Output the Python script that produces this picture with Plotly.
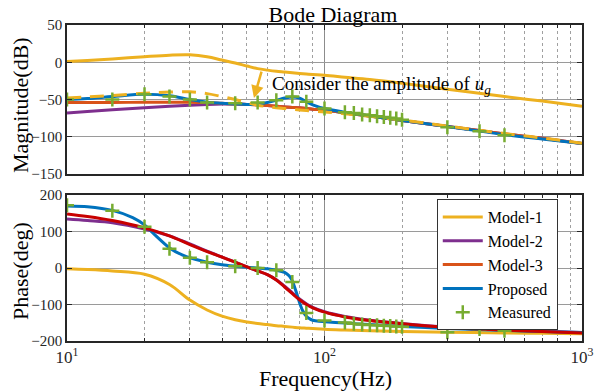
import plotly.graph_objects as go
from plotly.subplots import make_subplots

# ---------------- data ----------------
F_M = [10, 12, 15, 20, 25, 30, 35, 40, 45, 50, 55, 60, 65, 70, 75, 80, 85, 90,
       100, 120, 150, 200, 300, 500, 700, 1000]

MODEL1_MAG = [1, 2.5, 4.5, 7.5, 9.5, 10, 7.5, 3, -1, -5, -8.5, -10.5, -12, -13, -14,
              -15, -15.8, -16.5, -17.5, -20, -23, -28, -36, -46, -52, -59]
MODEL1_UG_MAG = [-48, -46.5, -44.5, -41.5, -40, -39.5, -42, -46, -50, -54, -57.5, -59.5,
                 -61, -62, -63, -64, -64.8, -65.5, -66.5, -69, -72.5, -77.5, -85.5,
                 -95.5, -101.5, -108.5]
MODEL2_MAG = [-68, -66, -63.5, -61, -59, -57.5, -56.5, -56, -56, -56.5, -57, -58, -59,
              -60, -60.5, -61, -62, -63, -64, -68, -72, -78, -86, -96, -102, -109]
MODEL3_MAG = [-54, -54, -54, -53.5, -53.5, -53.5, -54, -55, -56, -56.5, -57, -58, -59,
              -60, -60.5, -61, -62, -63, -64, -68, -72, -78, -86, -96, -102, -109]
PROP_MAG = [-50, -48.5, -46, -43, -45, -50, -53.5, -55, -56, -56.5, -56, -54, -51, -48,
            -46.5, -48, -53, -57, -62, -67, -72, -78, -86, -97, -103, -109]

MODEL1_PH = [-2, -4, -8, -17, -45, -88, -115, -132, -142, -148, -152, -155, -158, -160,
             -162, -164, -165, -166, -168, -170, -172, -174, -176, -178, -179, -180]
MODEL2_PH = [134, 130, 124, 107, 88, 66, 46, 30, 16, 3, -8, -18, -32, -50, -68, -85,
             -98, -108, -120, -133, -143, -152, -162, -169, -173, -177]
MODEL3_PH = [148, 141, 130, 110, 88, 64, 45, 30, 16, 3, -8, -18, -33, -52, -70, -87,
             -100, -109, -121, -134, -144, -153, -163, -170, -174, -178]

F_P = [10, 12, 15, 18, 20, 22, 25, 28, 30, 35, 40, 45, 50, 55, 60, 65, 70, 73, 75, 78,
       80, 82, 85, 88, 90, 95, 100, 120, 150, 200, 300, 500, 700, 1000]
PROP_PH = [170, 168, 158, 138, 118, 90, 55, 36, 28, 16, 9, 5, 2, 0, -2, -6, -12, -22,
           -35, -70, -95, -115, -132, -140, -143, -146, -147, -151, -155, -160, -166,
           -171, -174, -177]

MEAS_F = [10, 15, 20, 25, 30, 35, 45, 55, 65, 75, 85, 100, 120, 130, 140, 150, 160,
          170, 180, 190, 200, 300, 400, 500]
MEAS_MAG = [-50, -50, -43, -46, -50, -54, -55, -54, -51, -46, -53, -62, -67, -68, -70,
            -71, -72.5, -73.5, -74.5, -75.5, -77, -87, -92.5, -98]
MEAS_PH = [172, 157, 113, 53, 28, 16, 5, 0, -6, -38, -123, -144, -149, -153, -155, -156,
           -157, -158, -159, -160, -161, -176, -167, -172]

X_TICKS = [10, 100, 1000]
X_TICK_TEXT = ["10<sup>1</sup>", "10<sup>2</sup>", "10<sup>3</sup>"]
MAG_TICKS = [-150, -100, -50, 0, 50]
PH_TICKS = [-200, -100, 0, 100, 200]

C1, C2, C3, CP, CM, CRED = "#EDB120", "#7E2F8E", "#D95319", "#0072BD", "#77AC30", "#C80000"
FONT = "Liberation Serif"
LW = 3

fig = make_subplots(rows=2, cols=1, shared_xaxes=False, vertical_spacing=0.066)

# magnitude
fig.add_trace(go.Scatter(x=F_M, y=MODEL1_MAG, mode="lines", name="Model-1",
                         line=dict(color=C1, width=LW, shape="spline")), 1, 1)
fig.add_trace(go.Scatter(x=F_M, y=MODEL2_MAG, mode="lines", name="Model-2",
                         line=dict(color=C2, width=LW, shape="spline")), 1, 1)
fig.add_trace(go.Scatter(x=F_M, y=MODEL3_MAG, mode="lines", name="Model-3",
                         line=dict(color=C3, width=LW, shape="spline")), 1, 1)
fig.add_trace(go.Scatter(x=F_M, y=PROP_MAG, mode="lines", name="Proposed",
                         line=dict(color=CP, width=LW, shape="spline")), 1, 1)
fig.add_trace(go.Scatter(x=F_M, y=MODEL1_UG_MAG, mode="lines", showlegend=False,
                         line=dict(color=C1, width=LW, shape="spline", dash="14px,9px")), 1, 1)
fig.add_trace(go.Scatter(x=MEAS_F, y=MEAS_MAG, mode="markers", name="Measured",
                         marker=dict(symbol="cross-thin", size=10, color=CM,
                                     line=dict(color=CM, width=2.5))), 1, 1)

# phase
fig.add_trace(go.Scatter(x=F_M, y=MODEL1_PH, mode="lines", showlegend=False,
                         line=dict(color=C1, width=LW, shape="spline")), 2, 1)
fig.add_trace(go.Scatter(x=F_M, y=MODEL2_PH, mode="lines", showlegend=False,
                         line=dict(color=C2, width=LW, shape="spline")), 2, 1)
fig.add_trace(go.Scatter(x=F_P, y=PROP_PH, mode="lines", showlegend=False,
                         line=dict(color=CP, width=LW, shape="spline", smoothing=0.7)), 2, 1)
fig.add_trace(go.Scatter(x=F_M, y=MODEL3_PH, mode="lines", showlegend=False,
                         line=dict(color=CRED, width=LW, shape="spline")), 2, 1)
fig.add_trace(go.Scatter(x=MEAS_F, y=MEAS_PH, mode="markers", showlegend=False,
                         marker=dict(symbol="cross-thin", size=10, color=CM,
                                     line=dict(color=CM, width=2.5))), 2, 1)

xcommon = dict(type="log", range=[1, 3], tickvals=X_TICKS, ticktext=X_TICK_TEXT,
               automargin=False,
               showline=True, linecolor="#262626", linewidth=1.5, mirror="allticks",
               ticks="inside", ticklen=5, tickcolor="#262626",
               showgrid=True, gridcolor="#8c8c8c", gridwidth=1,
               minor=dict(dtick="D1", ticks="inside", ticklen=3, tickcolor="#262626",
                          showgrid=True, gridcolor="#a0a0a0", griddash="dot", gridwidth=1),
               zeroline=False, tickfont=dict(family=FONT, size=17, color="#262626"))
fig.update_xaxes(**xcommon, showticklabels=False, row=1, col=1)
fig.update_xaxes(**xcommon, showticklabels=True, row=2, col=1)

ycommon = dict(showline=True, linecolor="#262626", linewidth=1.5, mirror="allticks",
               automargin=False,
               ticks="inside", ticklen=5, tickcolor="#262626",
               showgrid=True, gridcolor="#9a9a9a", gridwidth=1.2, zeroline=False,
               tickfont=dict(family=FONT, size=15, color="#262626"))
fig.update_yaxes(**ycommon, range=[-150, 50], tickvals=MAG_TICKS, row=1, col=1)
fig.update_yaxes(**ycommon, range=[-200, 200], tickvals=PH_TICKS, row=2, col=1)

fig.update_layout(
    width=597, height=391,
    margin=dict(l=67, r=15, t=25, b=50),
    paper_bgcolor="white", plot_bgcolor="white",
    font=dict(family=FONT, color="#000000"),
    showlegend=True,
    legend=dict(x=0.718, y=0.449, xanchor="left", yanchor="top",
                bgcolor="white", bordercolor="#333333", borderwidth=1,
                font=dict(family=FONT, size=16, color="#000000"),
                tracegroupgap=0, itemwidth=40),
    title=dict(text="Bode Diagram", x=333 / 597, xanchor="center",
               y=1 - 14 / 391, yanchor="middle", yref="container",
               font=dict(family=FONT, size=22, color="#000000")),
)
fig.layout.yaxis.domain = [0.528, 1.0]
fig.layout.yaxis2.domain = [0.0, 0.462]

fig.add_annotation(text="Magnitude(dB)", xref="paper", yref="paper",
                   x=(20 - 67) / 515, y=(341 - 105) / 316, textangle=-90, showarrow=False,
                   font=dict(family=FONT, size=22, color="#000000"),
                   xanchor="center", yanchor="middle")
fig.add_annotation(text="Phase(deg)", xref="paper", yref="paper",
                   x=(20 - 67) / 515, y=(341 - 271) / 316, textangle=-90, showarrow=False,
                   font=dict(family=FONT, size=22, color="#000000"),
                   xanchor="center", yanchor="middle")
fig.add_annotation(text="Frequency(Hz)", xref="paper", yref="paper",
                   x=(325 - 67) / 515, y=(341 - 378) / 316, showarrow=False,
                   font=dict(family=FONT, size=22, color="#000000"),
                   xanchor="center", yanchor="middle")

# annotation text + arrow
fig.add_annotation(text="Consider the amplitude of <i>u</i><sub><i>g</i></sub>",
                   xref="x", yref="y", x=1.79, y=-31, xanchor="left", yanchor="middle",
                   showarrow=False, font=dict(family=FONT, size=19, color="#000000"))
fig.add_annotation(text="", xref="x", yref="y", x=1.726, y=-48,
                   ax=8, ay=-28, showarrow=True, arrowhead=2, arrowsize=1,
                   arrowwidth=2.5, arrowcolor=C1)

fig.write_html("out.html")
